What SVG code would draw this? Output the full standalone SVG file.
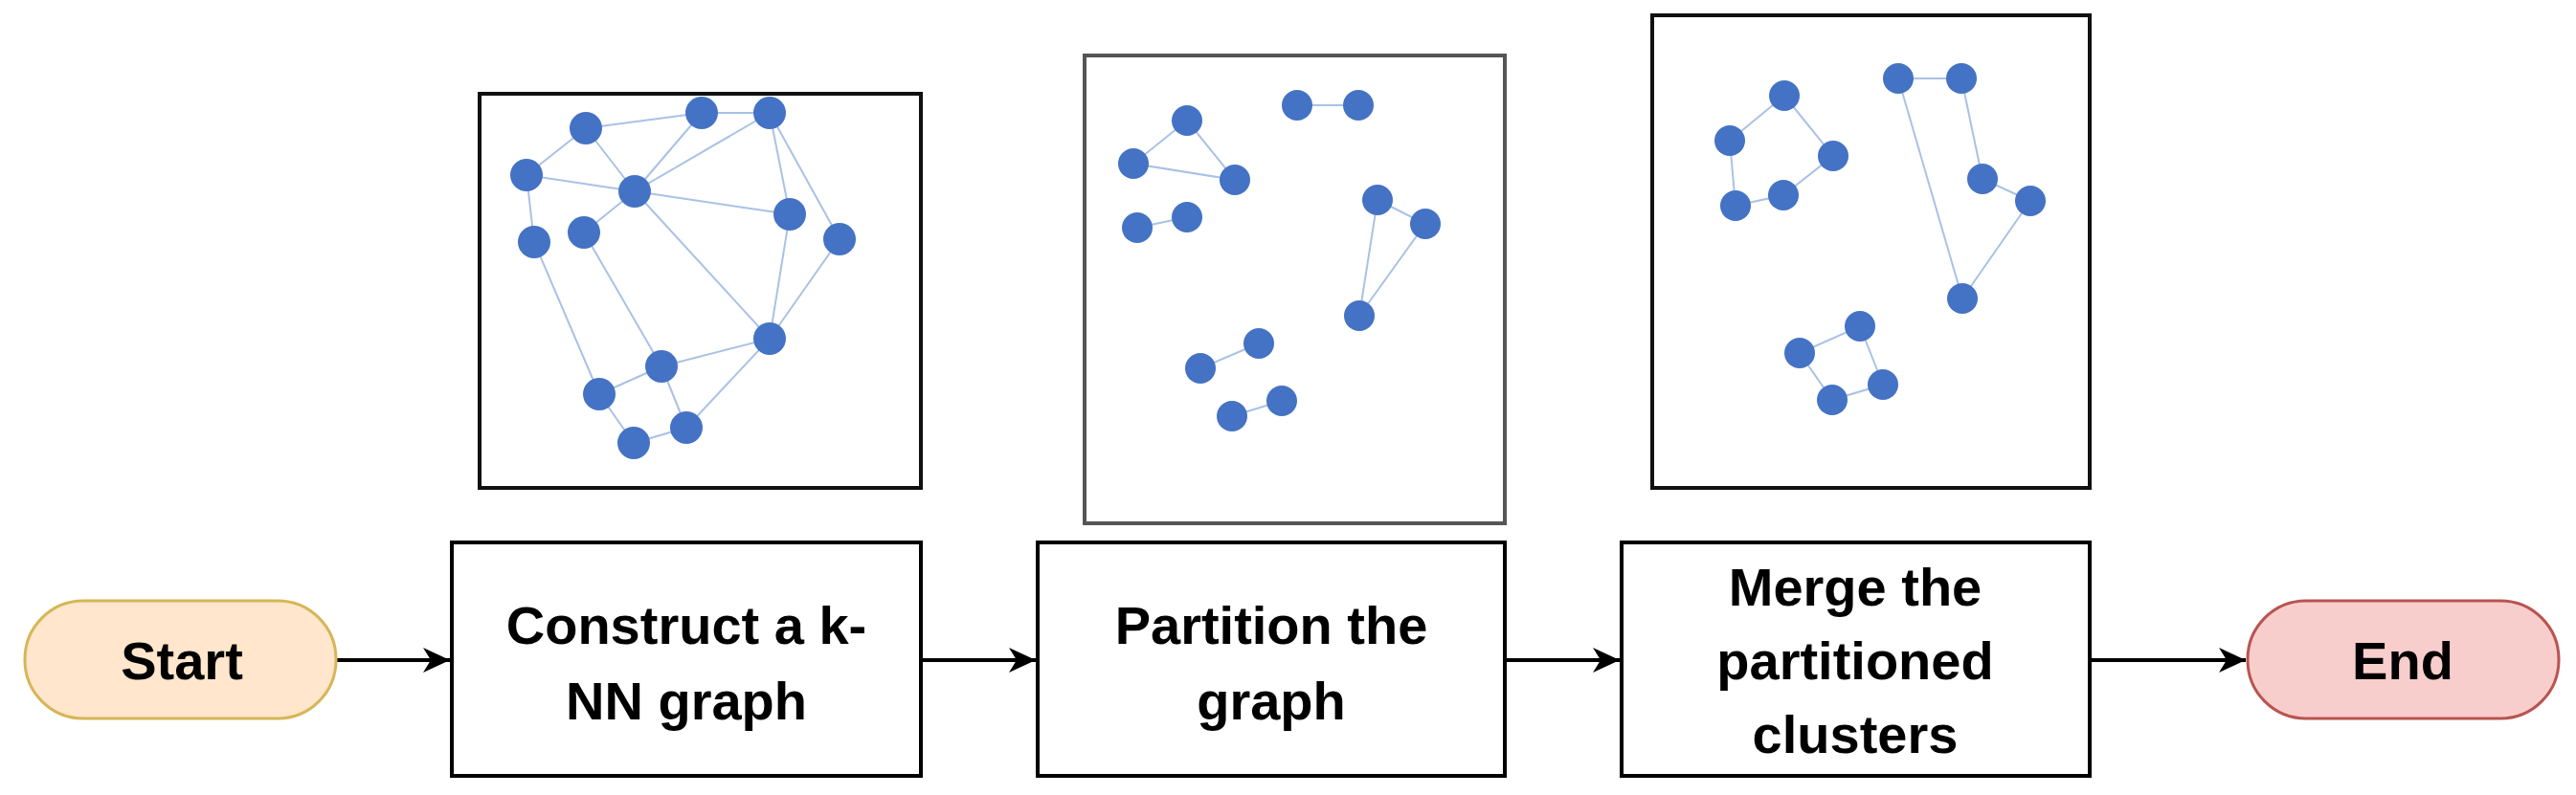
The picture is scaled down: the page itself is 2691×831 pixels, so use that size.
<svg xmlns="http://www.w3.org/2000/svg" width="2691" height="831" viewBox="0 0 2691 831">
<style>
.box{fill:#fff;stroke:#000;stroke-width:4}
.pic{fill:#fff;stroke:#111;stroke-width:4}
.t{font-family:"Liberation Sans",Arial,sans-serif;font-weight:bold;font-size:56px;text-anchor:middle;fill:#000}
.n{fill:#4472c4}
.e{stroke:#a9c2e6;stroke-width:2;fill:none}
.c{stroke:#000;stroke-width:4;fill:none;marker-end:url(#ah)}
</style>
<defs><marker id="ah" markerWidth="10" markerHeight="10" refX="9" refY="5" orient="auto" markerUnits="userSpaceOnUse" viewBox="0 0 10 10"><path d="M0,0 L10,5 L0,10 L3,5 Z" fill="#000" transform="scale(1)"/></marker>
<marker id="a2" viewBox="0 0 30 30" refX="28" refY="15" markerWidth="30" markerHeight="30" markerUnits="userSpaceOnUse" orient="auto"><path d="M0,2 L28,15 L0,28 L8,15 Z" fill="#000"/></marker></defs>
<g id="connectors">
<path class="c" style="marker-end:url(#a2)" d="M351,690 H470"/>
<path class="c" style="marker-end:url(#a2)" d="M962,690 H1082"/>
<path class="c" style="marker-end:url(#a2)" d="M1572,690 H1692"/>
<path class="c" style="marker-end:url(#a2)" d="M2183,690 H2346"/>
</g>
<g id="start"><rect x="26" y="628" width="325" height="123" rx="61" fill="#ffe6cc" stroke="#d6b656" stroke-width="3"/><text class="t" x="190" y="710">Start</text></g>
<g id="construct"><rect class="box" x="472" y="567" width="490" height="244"/><text class="t" x="717" y="673">Construct a k-</text><text class="t" x="717" y="752">NN graph</text></g>
<g id="partition"><rect class="box" x="1084" y="567" width="488" height="244"/><text class="t" x="1328" y="673">Partition the</text><text class="t" x="1328" y="752">graph</text></g>
<g id="merge"><rect class="box" x="1694" y="567" width="489" height="244"/><text class="t" x="1938" y="633">Merge the</text><text class="t" x="1938" y="710">partitioned</text><text class="t" x="1938" y="787">clusters</text></g>
<g id="end"><rect x="2348" y="628" width="325" height="123" rx="61" fill="#f8cecc" stroke="#b85450" stroke-width="3"/><text class="t" x="2510" y="710">End</text></g>
<g id="knn-graph">
<rect class="pic" x="501" y="98" width="461" height="412"/>
<path class="e" d="M612,134 L733,118 L804,118 M612,134 L550,183 M612,134 L663,200 M550,183 L663,200 M550,183 L558,253 M663,200 L733,118 M663,200 L804,118 M663,200 L825,224 M663,200 L804,354 M804,118 L825,224 M804,118 L877,250 M825,224 L804,354 M877,250 L804,354 M558,253 L626,412 M610,243 L691,383 M691,383 L804,354 M626,412 L691,383 M626,412 L662,463 L717,447 M691,383 L717,447 M804,354 L717,447 M663,200 L610,243"/>
<g class="n"><circle cx="612" cy="134" r="17"/><circle cx="733" cy="118" r="17"/><circle cx="804" cy="118" r="17"/><circle cx="550" cy="183" r="17"/><circle cx="663" cy="200" r="17"/><circle cx="825" cy="224" r="17"/><circle cx="877" cy="250" r="17"/><circle cx="558" cy="253" r="17"/><circle cx="610" cy="243" r="17"/><circle cx="804" cy="354" r="17"/><circle cx="691" cy="383" r="17"/><circle cx="626" cy="412" r="17"/><circle cx="717" cy="447" r="17"/><circle cx="662" cy="463" r="17"/></g>
</g>
<g id="partitioned-graph">
<rect x="1133" y="58" width="439" height="489" fill="#fff" stroke="#555" stroke-width="4"/>
<path class="e" d="M1240,126 L1184,171 L1290,188 Z M1188,238 L1240,227 M1355,110 L1419,110 M1439,209 L1489,234 L1420,330 Z M1254,385 L1315,359 M1287,435 L1339,419"/>
<g class="n"><circle cx="1240" cy="126" r="16"/><circle cx="1184" cy="171" r="16"/><circle cx="1290" cy="188" r="16"/><circle cx="1188" cy="238" r="16"/><circle cx="1240" cy="227" r="16"/><circle cx="1355" cy="110" r="16"/><circle cx="1419" cy="110" r="16"/><circle cx="1439" cy="209" r="16"/><circle cx="1489" cy="234" r="16"/><circle cx="1420" cy="330" r="16"/><circle cx="1315" cy="359" r="16"/><circle cx="1254" cy="385" r="16"/><circle cx="1339" cy="419" r="16"/><circle cx="1287" cy="435" r="16"/></g>
</g>
<g id="merged-clusters">
<rect class="pic" x="1726" y="16" width="457" height="494"/>
<path class="e" d="M1864,100 L1807,147 L1813,215 L1863,204 L1915,163 Z M1983,82 L2049,82 L2071,187 L2121,210 L2050,312 L1983,82 M1880,369 L1943,341 L1967,402 L1914,418 Z"/>
<g class="n"><circle cx="1864" cy="100" r="16"/><circle cx="1807" cy="147" r="16"/><circle cx="1915" cy="163" r="16"/><circle cx="1813" cy="215" r="16"/><circle cx="1863" cy="204" r="16"/><circle cx="1983" cy="82" r="16"/><circle cx="2049" cy="82" r="16"/><circle cx="2071" cy="187" r="16"/><circle cx="2121" cy="210" r="16"/><circle cx="2050" cy="312" r="16"/><circle cx="1943" cy="341" r="16"/><circle cx="1880" cy="369" r="16"/><circle cx="1967" cy="402" r="16"/><circle cx="1914" cy="418" r="16"/></g>
</g>
</svg>
